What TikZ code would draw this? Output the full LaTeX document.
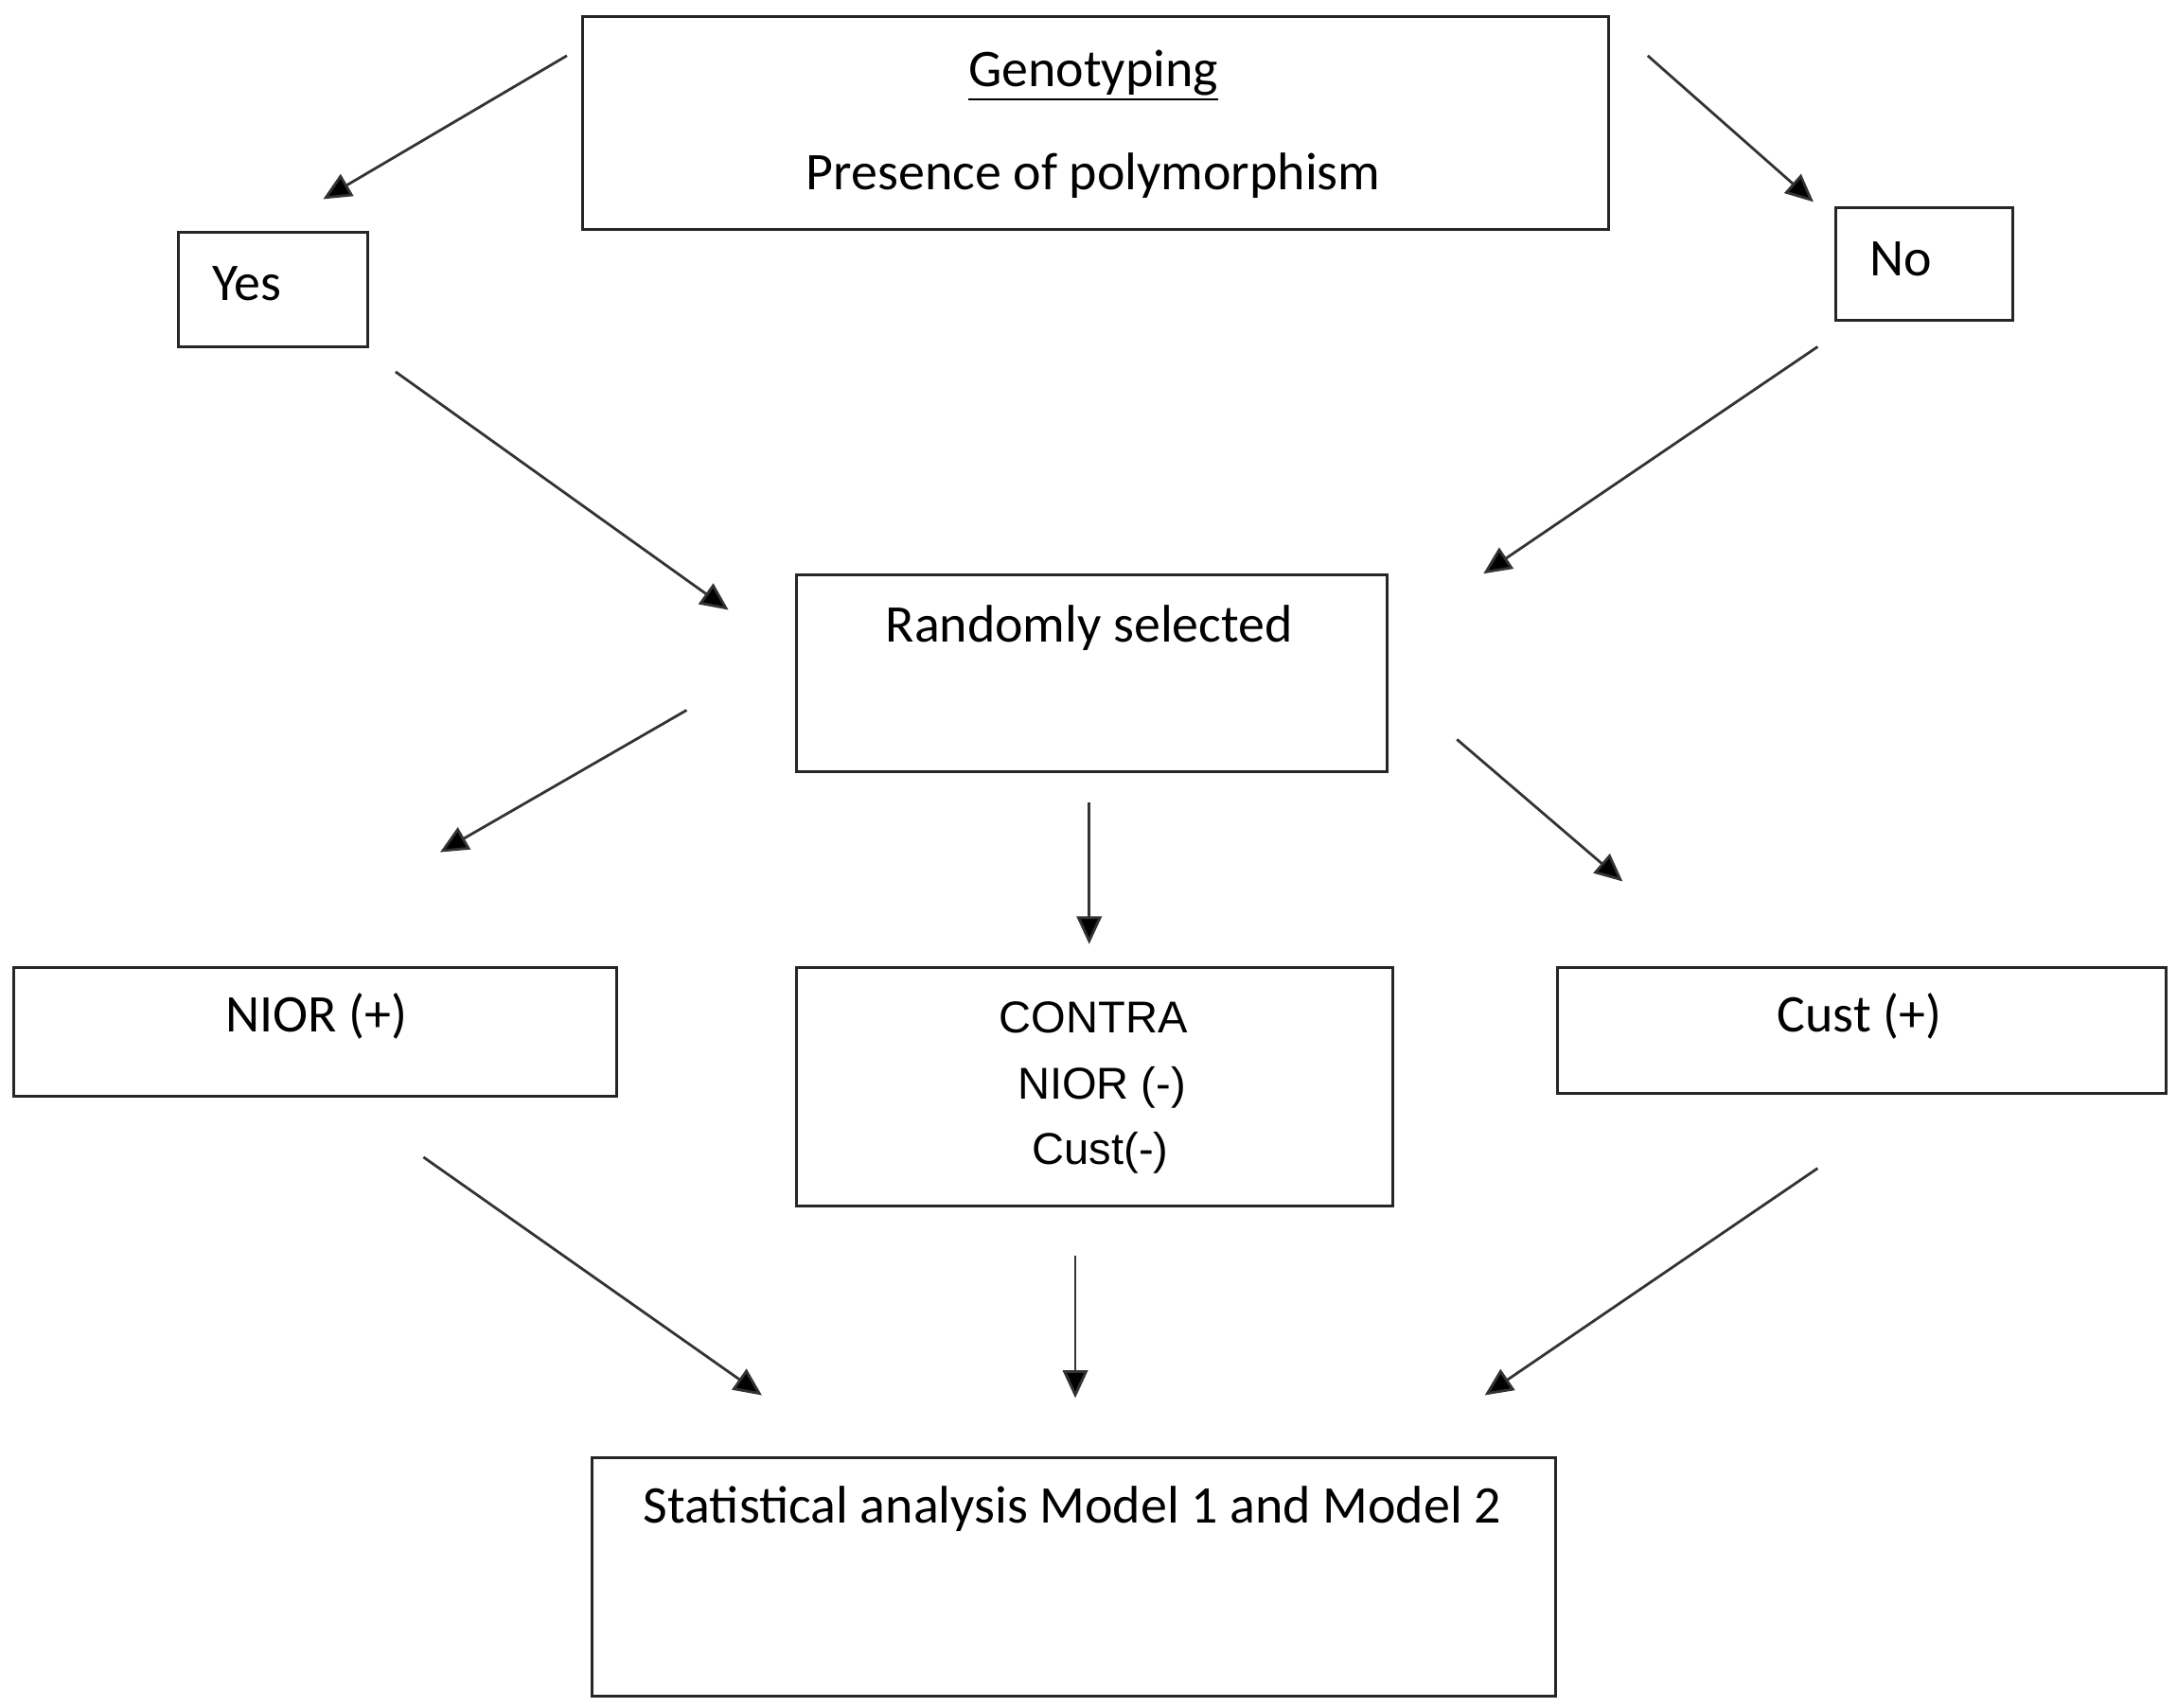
\documentclass[tikz,border=0pt]{standalone}
\usepackage{fontspec}
\setmainfont{Carlito}
\newfontfamily\arialf{Liberation Sans}
\usetikzlibrary{arrows.meta}
\begin{document}
\begin{tikzpicture}[x=0.5pt,y=-0.5pt,
  box/.style={draw=black!85,line width=1pt,fill=none},
  lbl/.style={inner sep=0pt,anchor=base,font=\fontsize{19}{23}\selectfont},
  albl/.style={inner sep=0pt,anchor=base,font=\arialf\fontsize{16}{24}\selectfont},
  arr/.style={draw=black!80,line width=0.95pt,-{Triangle[length=10pt,width=9pt,fill=black]}}]
\useasboundingbox (0,0) rectangle (1563,1226);
% boxes
\node[box,minimum width=737pt*0.5,minimum height=153pt*0.5,inner sep=0pt] (geno) at (786.5,88.5) {};
\node[box,minimum width=136pt*0.5,minimum height=82pt*0.5,inner sep=0pt] (yes) at (196,208) {};
\node[box,minimum width=127pt*0.5,minimum height=81pt*0.5,inner sep=0pt] (no) at (1381.5,189.5) {};
\node[box,minimum width=424pt*0.5,minimum height=141pt*0.5,inner sep=0pt] (rand) at (784,483.5) {};
\node[box,minimum width=433pt*0.5,minimum height=92pt*0.5,inner sep=0pt] (nior) at (226.5,741) {};
\node[box,minimum width=428pt*0.5,minimum height=171pt*0.5,inner sep=0pt] (contra) at (786,780.5) {};
\node[box,minimum width=437pt*0.5,minimum height=90pt*0.5,inner sep=0pt] (cust) at (1336.5,740) {};
\node[box,minimum width=692pt*0.5,minimum height=171pt*0.5,inner sep=0pt] (stat) at (771,1132.5) {};
% labels
\node[lbl] (t1) at (785,62) {\underline{Genotyping}};
\node[lbl] (t2) at (785,136) {Presence of polymorphism};
\node[lbl,anchor=base west] (t3) at (152,216) {Yes};
\node[lbl,anchor=base west] (t4) at (1342,198) {No};
\node[lbl] (t5) at (782,461) {Randomly selected};
\node[lbl] (t6) at (227,741) {NIOR (+)};
\node[albl] (t7) at (785,742) {CONTRA};
\node[albl] (t8) at (791,789) {NIOR (-)};
\node[albl] (t9) at (790,836) {Cust(-)};
\node[lbl] (t10) at (1335,741) {Cust (+)};
\node[lbl] (t11) at (770,1094) {Statistical analysis Model 1 and Model 2};
% arrow end points
\coordinate (a1s) at (407,40);   \coordinate (a1e) at (232,143);
\coordinate (a2s) at (1183,40);  \coordinate (a2e) at (1302,145);
\coordinate (a3s) at (284,267);  \coordinate (a3e) at (523,438);
\coordinate (a4s) at (1305,249); \coordinate (a4e) at (1065,412);
\coordinate (a5s) at (493,510);  \coordinate (a5e) at (316,612);
\coordinate (a6s) at (782,576);  \coordinate (a6e) at (782,678);
\coordinate (a7s) at (1046,531); \coordinate (a7e) at (1165,633);
\coordinate (a8s) at (304,831);  \coordinate (a8e) at (547,1002);
\coordinate (a9s) at (772,902);  \coordinate (a9e) at (772,1004);
\coordinate (a10s) at (1305,839); \coordinate (a10e) at (1066,1002);
\foreach \i in {1,...,10} {\draw[arr] (a\i s) -- (a\i e);}
\end{tikzpicture}
\end{document}
